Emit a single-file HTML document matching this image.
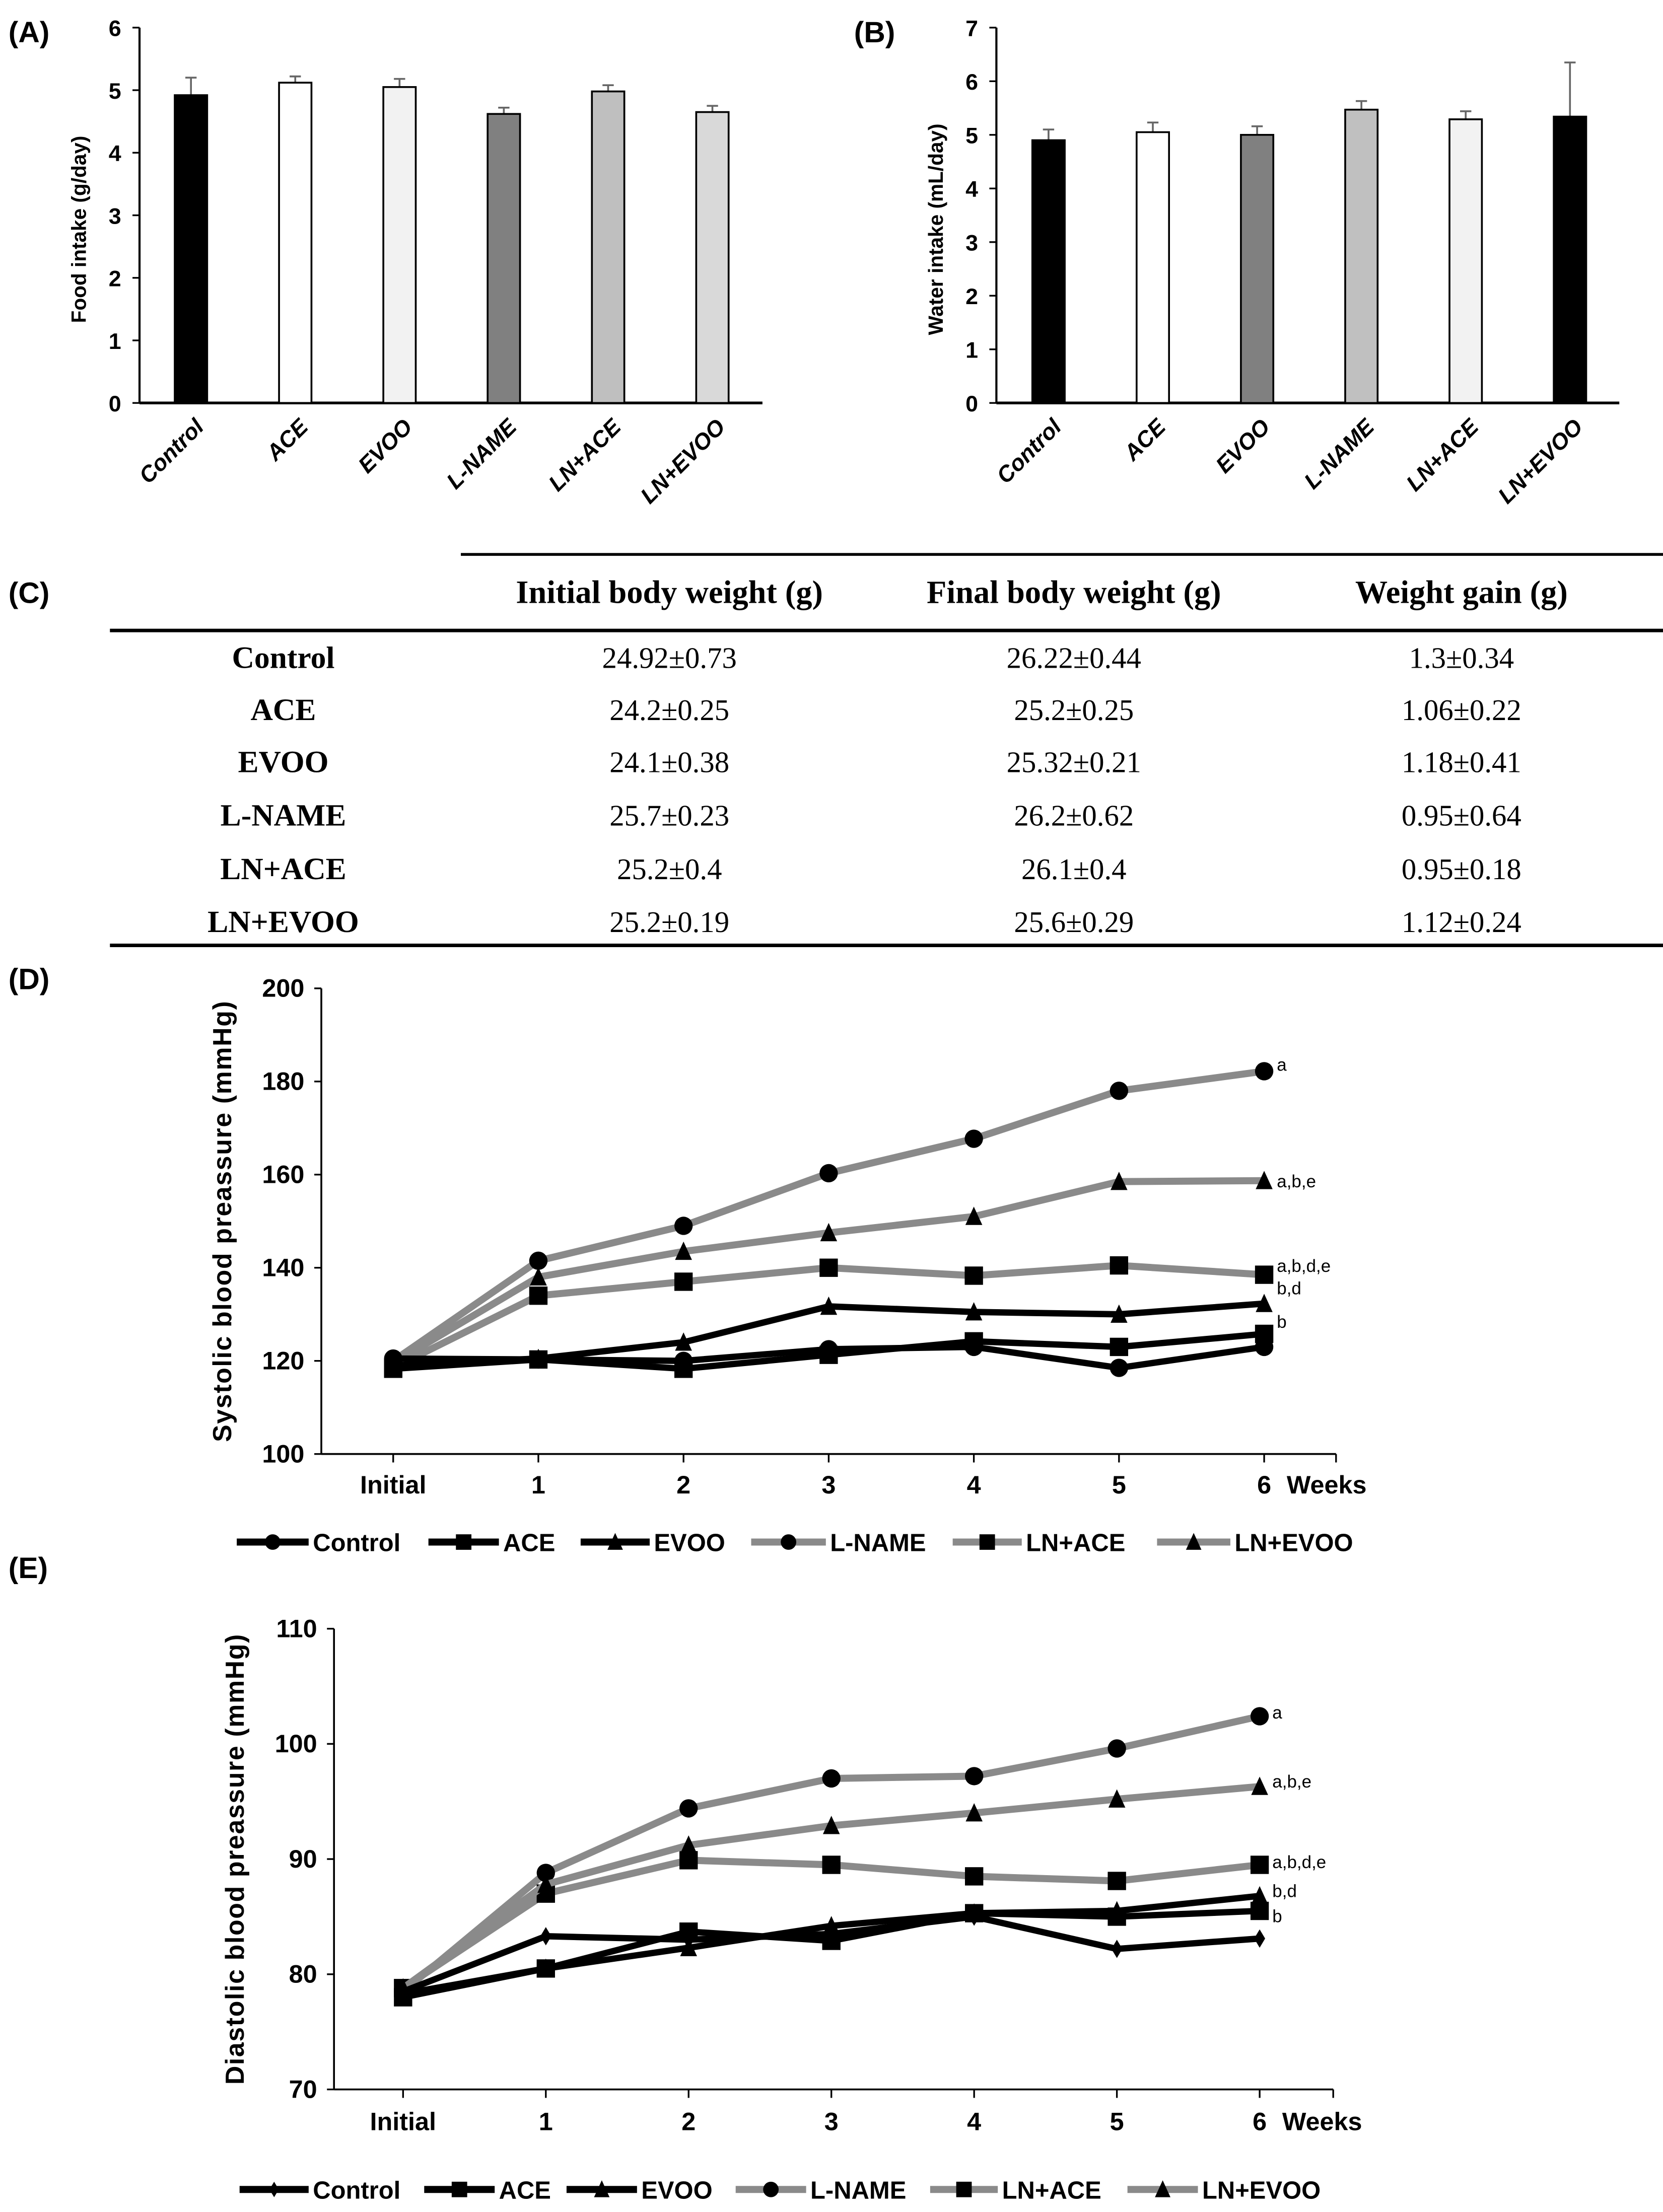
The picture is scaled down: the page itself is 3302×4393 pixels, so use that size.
<!DOCTYPE html>
<html><head><meta charset="utf-8"><style>
html,body{margin:0;padding:0;background:#fff}
svg{display:block}
text{font-family:"Liberation Sans",Arial,sans-serif}
.serif{font-family:"Liberation Serif","Times New Roman",serif}
</style></head><body>
<svg id="fig" xmlns="http://www.w3.org/2000/svg" width="3302" height="4393" viewBox="0 0 1180 1570" preserveAspectRatio="none">
<text x="6" y="30" font-size="21" font-weight="bold">(A)</text>
<text x="606" y="30" font-size="21" font-weight="bold">(B)</text>
<text x="6" y="428" font-size="21" font-weight="bold">(C)</text>
<text x="6" y="702" font-size="21" font-weight="bold">(D)</text>
<text x="6" y="1120" font-size="21" font-weight="bold">(E)</text>
<g id="table"></g>
<g id="ga"></g>
<g id="gb"></g>
<g id="gd"></g>
<g id="ge"></g>
</svg>
<script>
const groups = ["Control","ACE","EVOO","L-NAME","LN+ACE","LN+EVOO"];
const foodValues = [4.92,5.12,5.05,4.62,4.98,4.65];
const foodErrors = [0.28,0.10,0.13,0.10,0.10,0.10];
const foodColors = ["#000","#fff","#f2f2f2","#808080","#bfbfbf","#d9d9d9"];
const foodTicks = [0,1,2,3,4,5,6];
const waterValues = [4.9,5.05,5.0,5.47,5.29,5.34];
const waterErrors = [0.2,0.18,0.16,0.16,0.15,1.01];
const waterColors = ["#000","#fff","#808080","#c0c0c0","#f2f2f2","#000"];
const waterTicks = [0,1,2,3,4,5,6,7];
const tableHeaders = ["Initial body weight (g)","Final body weight (g)","Weight gain (g)"];
const tableInitial = ["24.92±0.73","24.2±0.25","24.1±0.38","25.7±0.23","25.2±0.4","25.2±0.19"];
const tableFinal = ["26.22±0.44","25.2±0.25","25.32±0.21","26.2±0.62","26.1±0.4","25.6±0.29"];
const tableGain = ["1.3±0.34","1.06±0.22","1.18±0.41","0.95±0.64","0.95±0.18","1.12±0.24"];
const weekLabels = ["Initial","1","2","3","4","5","6"];
const sysControl = [120.5,120.3,120,122.5,123,118.5,123];
const sysACE = [118.3,120.3,118.3,121.3,124.2,123,125.8];
const sysEVOO = [119,120.5,124,131.7,130.5,130,132.3];
const sysLNAME = [120,141.5,149,160.3,167.7,178,182.2];
const sysLNACE = [118.5,134,137,140,138.3,140.5,138.5];
const sysLNEVOO = [119.5,138,143.5,147.5,151,158.5,158.7];
const sysTicks = [100,120,140,160,180,200];
const sysSig = ["a","a,b,e","a,b,d,e","b,d","b"];
const sysSigVals = [183.5,158.5,140.3,135.5,128.3];
const diaControl = [78.5,83.3,83,83.5,85,82.2,83.1];
const diaACE = [78,80.5,83.7,82.9,85.3,85,85.5];
const diaEVOO = [78.3,80.5,82.3,84.2,85.3,85.5,86.8];
const diaLNAME = [78.5,88.8,94.4,97,97.2,99.6,102.4];
const diaLNACE = [78.8,87,89.9,89.5,88.5,88.1,89.5];
const diaLNEVOO = [78.8,87.8,91.2,92.9,94,95.2,96.3];
const diaTicks = [70,80,90,100,110];
const diaSig = ["a","a,b,e","a,b,d,e","b,d","b"];
const diaSigVals = [102.7,96.7,89.7,87.2,85.0];

const NS="http://www.w3.org/2000/svg";
function mk(tag, attrs, parent, txt){
  const e=document.createElementNS(NS,tag);
  for(const k in attrs) e.setAttribute(k,attrs[k]);
  if(txt!==undefined) e.textContent=txt;
  parent.appendChild(e); return e;
}

function barChart(g, vals, errs, cols, ticks, x0, xEnd, c0, title, prefix){
  const yTop=19.6, yBot=286, vmax=ticks[ticks.length-1];
  const Y=v=>yBot-(v/vmax)*(yBot-yTop);
  const X=i=>c0+i*74;
  let el;
  el=mk('line',{x1:x0,y1:yTop,x2:x0,y2:yBot,stroke:'#000','stroke-width':1.5},g);
  
  
  el=mk('line',{x1:x0,y1:yBot,x2:xEnd,y2:yBot,stroke:'#000','stroke-width':2},g);
  
  
  ticks.forEach(t=>{
    mk('line',{x1:x0-5,y1:Y(t),x2:x0,y2:Y(t),stroke:'#000','stroke-width':1.2},g);
    el=mk('text',{x:x0-13,y:Y(t)+6,'font-size':16,'font-weight':'bold','text-anchor':'end'},g,String(t));
    
    
  });
  el=mk('text',{transform:`translate(${x0-38},${(yTop+yBot)/2+10}) rotate(-90)`,'font-size':14.5,'font-weight':'bold','text-anchor':'middle'},g,title);
  
  
  vals.forEach((v,i)=>{
    const cx=X(i);
    el=mk('line',{x1:cx,y1:Y(v),x2:cx,y2:Y(v+errs[i]),stroke:'#666','stroke-width':1.3},g);
    
    
    mk('line',{x1:cx-4,y1:Y(v+errs[i]),x2:cx+4,y2:Y(v+errs[i]),stroke:'#666','stroke-width':1.3},g);
    el=mk('rect',{x:cx-11.5,y:Y(v),width:23,height:yBot-Y(v),fill:cols[i],stroke:'#000','stroke-width':1.3},g);
    
    
    el=mk('text',{transform:`translate(${cx+10},${304}) rotate(-45)`,'font-size':16,'font-weight':'bold','font-style':'italic','text-anchor':'end'},g,groups[i]);
    
    
  });
}
barChart(document.getElementById('ga'),foodValues,foodErrors,foodColors,foodTicks,99,541,135.5,'Food intake (g/day)','food');
barChart(document.getElementById('gb'),waterValues,waterErrors,waterColors,waterTicks,707,1149,744,'Water intake (mL/day)','water');

(function(){
  const g=document.getElementById('table');
  let el;
  el=mk('line',{x1:327,y1:393.5,x2:1180,y2:393.5,stroke:'#000','stroke-width':2},g);
  
  
  el=mk('line',{x1:78,y1:447.5,x2:1180,y2:447.5,stroke:'#000','stroke-width':2.5},g);
  
  
  el=mk('line',{x1:78,y1:671,x2:1180,y2:671,stroke:'#000','stroke-width':2.5},g);
  
  
  const cols=[475,762,1037];
  tableHeaders.forEach((h,i)=>{
    el=mk('text',{x:cols[i],y:428,'font-size':23,'font-weight':'bold','text-anchor':'middle','class':'serif'},g,h);
    
    
  });
  const rowsY=[474,511,548,586,624,661.5];
  groups.forEach((r,i)=>{
    el=mk('text',{x:201,y:rowsY[i],'font-size':22,'font-weight':'bold','text-anchor':'middle','class':'serif'},g,r);
    
    
    [tableInitial,tableFinal,tableGain].forEach((arr,j)=>{
      el=mk('text',{x:cols[j],y:rowsY[i],'font-size':21,'text-anchor':'middle','class':'serif'},g,arr[i]);
      
      
    });
  });
})();

function marker(g,type,x,y,fill,size){
  let el;
  if(type==='circle') el=mk('circle',{cx:x,cy:y,r:size,fill:fill},g);
  else if(type==='square') el=mk('rect',{x:x-size,y:y-size,width:2*size,height:2*size,fill:fill},g);
  else if(type==='triangle') el=mk('polygon',{points:`${x},${y-size-1} ${x-size},${y+size} ${x+size},${y+size}`,fill:fill},g);
  else el=mk('polygon',{points:`${x},${y-size} ${x-size*0.6},${y} ${x},${y+size} ${x+size*0.6},${y}`,fill:fill},g);
  
  
}

function lineChart(g, cfg){
  const {x0,xEnd,yTop,yBot,ticks,c0,step,series,title,prefix,tickLabelY,legendY,legend,sig,sigVals}=cfg;
  const vmin=ticks[0], vmax=ticks[ticks.length-1];
  const Y=v=>yBot-(v-vmin)/(vmax-vmin)*(yBot-yTop);
  const X=i=>c0+i*step;
  let el;
  el=mk('line',{x1:x0,y1:yTop,x2:x0,y2:yBot,stroke:'#000','stroke-width':1.3},g);
  
  
  el=mk('line',{x1:x0,y1:yBot,x2:xEnd,y2:yBot,stroke:'#000','stroke-width':1.3},g);
  
  
  mk('line',{x1:xEnd,y1:yBot,x2:xEnd,y2:yBot+6,stroke:'#000','stroke-width':1.2},g);
  ticks.forEach(t=>{
    mk('line',{x1:x0-5,y1:Y(t),x2:x0,y2:Y(t),stroke:'#000','stroke-width':1.2},g);
    el=mk('text',{x:x0-12,y:Y(t)+6,'font-size':18,'font-weight':'bold','text-anchor':'end'},g,String(t));
    
    
  });
  weekLabels.forEach((w,i)=>{
    mk('line',{x1:X(i),y1:yBot,x2:X(i),y2:yBot+6,stroke:'#000','stroke-width':1.2},g);
    el=mk('text',{x:X(i),y:tickLabelY,'font-size':18,'font-weight':'bold','text-anchor':'middle'},g,w);
    
    
  });
  el=mk('text',{x:X(6)+16,y:tickLabelY,'font-size':18,'font-weight':'bold'},g,'Weeks');
  
  
  el=mk('text',{transform:`translate(${x0-64},${(yTop+yBot)/2}) rotate(-90)`,'font-size':18.5,'font-weight':'bold','text-anchor':'middle','letter-spacing':'0.6'},g,title);
  
  
  series.forEach(s=>{
    const pts=s.vals.map((v,i)=>X(i)+','+Y(v)).join(' ');
    el=mk('polyline',{points:pts,fill:'none',stroke:s.stroke,'stroke-width':s.w,'stroke-linejoin':'round'},g);
    
    
    s.vals.forEach((v,i)=>marker(g,s.m,X(i),Y(v),'#000',s.m==='triangle'?6:6.5));
  });
  sig.forEach((t,i)=>{
    el=mk('text',{x:X(6)+9,y:Y(sigVals[i])+4,'font-size':12.5},g,t);
    
    
  });
  legend.forEach(l=>{
    el=mk('line',{x1:l.lx,y1:legendY,x2:l.tx-3,y2:legendY,stroke:l.stroke,'stroke-width':5},g);
    
    
    marker(g,l.m,(l.lx+l.tx-3)/2,legendY,'#000',5.5);
    el=mk('text',{x:l.tx,y:legendY+6.5,'font-size':17.5,'font-weight':'bold'},g,l.name);
    
    
  });
}
const GRAY='#8a8a8a';
lineChart(document.getElementById('gd'),{
  x0:228,xEnd:948,yTop:701.5,yBot:1032,ticks:sysTicks,c0:279,step:103,title:'Systolic blood preassure (mmHg)',prefix:'systolic',
  tickLabelY:1060,legendY:1094.5,sig:sysSig,sigVals:sysSigVals,
  series:[
    {key:'l-name',vals:sysLNAME,stroke:GRAY,w:5,m:'circle'},
    {key:'ln-ace',vals:sysLNACE,stroke:GRAY,w:5,m:'square'},
    {key:'ln-evoo',vals:sysLNEVOO,stroke:GRAY,w:5,m:'triangle'},
    {key:'control',vals:sysControl,stroke:'#000',w:4.5,m:'circle'},
    {key:'ace',vals:sysACE,stroke:'#000',w:4.5,m:'square'},
    {key:'evoo',vals:sysEVOO,stroke:'#000',w:4.5,m:'triangle'}],
  legend:[
    {name:'Control',lx:168,tx:222,stroke:'#000',m:'circle'},
    {name:'ACE',lx:304,tx:357,stroke:'#000',m:'square'},
    {name:'EVOO',lx:412,tx:464,stroke:'#000',m:'triangle'},
    {name:'L-NAME',lx:533,tx:589,stroke:GRAY,m:'circle'},
    {name:'LN+ACE',lx:676,tx:728,stroke:GRAY,m:'square'},
    {name:'LN+EVOO',lx:821,tx:876,stroke:GRAY,m:'triangle'}]
});
lineChart(document.getElementById('ge'),{
  x0:237,xEnd:946,yTop:1156,yBot:1483,ticks:diaTicks,c0:286,step:101.3,title:'Diastolic blood preassure (mmHg)',prefix:'diastolic',
  tickLabelY:1512,legendY:1554,sig:diaSig,sigVals:diaSigVals,
  series:[
    {key:'l-name',vals:diaLNAME,stroke:GRAY,w:5,m:'circle'},
    {key:'ln-ace',vals:diaLNACE,stroke:GRAY,w:5,m:'square'},
    {key:'ln-evoo',vals:diaLNEVOO,stroke:GRAY,w:5,m:'triangle'},
    {key:'control',vals:diaControl,stroke:'#000',w:4.5,m:'diamond'},
    {key:'ace',vals:diaACE,stroke:'#000',w:4.5,m:'square'},
    {key:'evoo',vals:diaEVOO,stroke:'#000',w:4.5,m:'triangle'}],
  legend:[
    {name:'Control',lx:170,tx:222,stroke:'#000',m:'diamond'},
    {name:'ACE',lx:301,tx:354,stroke:'#000',m:'square'},
    {name:'EVOO',lx:402,tx:455,stroke:'#000',m:'triangle'},
    {name:'L-NAME',lx:522,tx:575,stroke:GRAY,m:'circle'},
    {name:'LN+ACE',lx:660,tx:711,stroke:GRAY,m:'square'},
    {name:'LN+EVOO',lx:800,tx:853,stroke:GRAY,m:'triangle'}]
});
</script>
</body></html>
